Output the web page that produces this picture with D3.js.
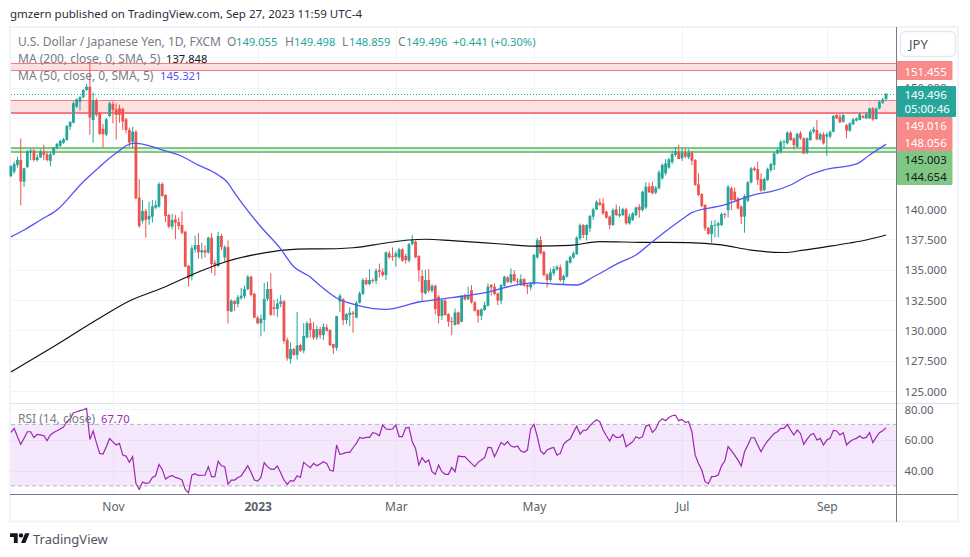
<!DOCTYPE html>
<html>
<head>
<meta charset="utf-8">
<title>USDJPY</title>
<script src="https://cdn.jsdelivr.net/npm/d3@7"></script>
<style>
body{margin:0;background:#fff;}
text{font-family:"Noto Sans",sans-serif;}
</style>
</head>
<body>
<div id="chart"></div>
<script>
// daily candles, bar 0 is the left most one
var opens = [
142.71,143.07,143.62,144.03,142.25,143.43,144.65,144.8,144.03,144.25,
144.72,144.5,143.95,144.5,145.0,145.2,145.45,145.68,146.78,147.1,
148.42,148.83,149.2,149.8,150.07,147.32,148.97,147.87,146.6,146.12,
147.65,148.65,148.2,148.3,148.23,147.38,146.5,145.54,146.36,140.93,
139.03,139.83,139.14,139.36,140.1,140.19,142.05,141.15,139.5,138.54,
139.14,138.92,138.68,138.12,135.3,134.42,136.65,137.03,136.42,136.6,
136.4,137.63,135.57,135.3,137.77,136.0,136.85,131.55,132.41,132.17,
132.66,132.8,133.4,134.42,133,131.04,130.58,130.85,132.58,133.4,
131.89,131.76,132.17,132.39,129.2,127.63,128.46,127.97,128.79,128.32,
129.42,130.58,130.1,129.42,130.1,129.6,130.24,130.02,128.87,128.56,
132.36,132.55,130.84,131.25,131.45,131.04,132.27,132.99,134.14,133.81,
134.14,134.08,134.96,134.83,134.55,136.34,136.12,136.06,136.01,136.67,
136.12,135.73,137.1,137.3,136.12,134.47,133.04,134.14,133.26,133.67,
132.77,131.17,132.44,131.34,130.76,130.43,131.47,130.71,132.9,132.55,
133.31,132.3,131.67,131.2,131.67,132.02,133.73,133.59,133.04,132.44,
133.67,134.36,133.95,134.63,134.08,133.73,134.22,133.73,133.53,133.81,
136.01,137.43,136.47,134.6,134.14,134.69,135.02,135.18,134.14,134.41,
135.57,136,136.28,137.57,138.67,137.85,138.39,139.36,139.96,140.54,
140.45,139.77,139.36,138.67,139.96,139.44,139.49,139.96,138.81,139.08,
139.49,140.18,139.9,140.12,141.84,141.89,141.34,141.7,142.52,142.93,
143.4,143.85,144.45,144.72,144.17,144.64,144.25,144.63,144.03,142.02,
141.22,140.32,138.45,137.93,138.67,138.62,138.67,139.58,139.9,141.69,
141.42,140.87,140.18,139.36,140.67,142.18,143.34,143.28,142.46,141.55,
142.38,143.2,143.61,144.57,144.71,145.5,145.4,146.28,145.8,145.12,
146.22,145.81,144.63,145.67,146.36,146.5,145.73,146.14,145.95,145.95,
146.36,147.73,147.6,147.18,146.9,146.44,146.96,147.27,147.32,147.65,
147.46,147.46,148.28,147.4,148.28,148.75,149.055];
var highs = [
143.6,143.9,144.3,145.8,143.4,144.85,144.95,144.95,144.5,144.9,
145.3,144.7,144.7,145.1,145.45,145.7,145.85,146.9,147.25,148.85,
149.1,149.3,149.85,150.3,151.95,149.58,149.1,148.0,147.0,147.5,
148.85,148.85,148.7,148.6,148.35,147.5,146.7,146.75,146.5,142.44,
140.74,140,140.6,140.74,140.7,142.2,142.2,141.2,139.6,139.6,
139.5,139.3,139.8,138.2,135.4,137.0,137.8,138.0,137.2,137,
137.7,138,135.8,138.1,137.95,137.0,137.4,132.55,132.5,132.9,
133.5,133.7,134.55,134.5,133.1,131.2,131.3,133.9,134,134.7,
132.5,132.6,132.9,132.5,129.4,129,128.55,131.5,128.9,130.6,
130.75,131,130.7,130.4,130.3,130.57,130.5,130.1,128.9,131.2,
133,132.65,131.4,131.9,131.6,132.4,133.2,134.3,134.36,135.02,
134.3,135.1,135.5,135.1,136.5,136.53,136.83,136.5,136.8,136.75,
136.3,137.2,137.85,137.4,136.2,134.98,135,135.05,133.8,133.75,
132.9,132.55,132.6,131.4,131.1,131.8,131.55,132.9,133,133.6,
133.72,132.4,131.75,131.8,132.35,133.86,133.81,133.86,133.1,133.8,
134.5,134.45,135.1,134.96,134.3,134.6,134.3,133.8,134,136.3,
137.6,137.76,136.55,134.7,135.1,135.3,135.35,135.4,134.6,135.8,
136.15,136.5,137.75,138.8,138.75,138.75,139.5,140.1,140.7,140.87,
140.87,139.85,139.45,140.05,140.37,140.2,140.1,140.1,139.6,139.75,
140.2,140.4,141.5,142.2,142.17,142.25,141.9,143.2,143.75,144.1,
144.2,144.8,145.1,145.3,145,144.95,144.9,144.75,144.1,142.93,
141.3,140.4,138.5,139.03,139.08,138.95,139.7,139.7,141.95,141.85,
141.77,141,140.3,141.2,142.3,143.45,143.5,143.9,142.93,142.6,
143.4,143.8,144.7,145,145.65,145.7,146.4,146.4,145.9,146.3,
146.4,145.9,145.9,146.5,146.75,147.32,146.3,146.3,146.3,146.45,
147.75,147.85,147.81,147.85,147,147.15,147.5,147.55,147.95,147.75,
147.95,148.35,148.4,148.35,148.95,149.15,149.498];
var lows = [
142.6,142.9,143.4,140.3,141.8,143.4,144.0,143.9,143.9,144.2,
144,143.9,143.5,144.4,144.9,145.1,145.35,145.6,146.5,147.05,
148.3,148.1,149.1,149.7,146.1,145.45,147.6,146.1,145.05,146,
147.55,147.05,145.7,147.1,146.5,146.2,145.1,145,140.8,138.43,
138.81,137.63,138.68,138.87,140,140.1,141,138.9,138.4,138.3,
137.5,138.3,137.9,135.2,133.6,134.1,136.4,135.9,135.9,136,
136.3,134.7,134.5,135.2,136.6,135.6,130.55,131.5,131.6,131.9,
132.5,132.6,133.3,132.8,131,130.5,129.5,129.9,132.4,131.2,
131.2,131.1,131.9,128.9,127.5,127.25,127.9,127.6,128.2,128.1,
129.3,129.4,129.2,129.2,129.3,129.2,129.9,128.7,128.04,128.32,
131.5,130.43,130.51,130.35,129.8,131,132.2,132.9,133.7,133.7,
133.9,133.8,134.36,134.4,134.14,135.9,135.73,135.24,135.9,135.65,
135.5,135.6,137,135.95,134,132.35,132.95,133.1,133.1,131.3,
130.57,130.84,131.2,130.3,129.6,130.4,130.45,130.65,132.45,132.5,
132.2,131.55,130.62,130.84,131.6,131.95,132.85,132.9,132.08,132.16,
133.6,133.9,133.85,134,133.73,133.65,133.6,132.99,133.3,133.7,
135.9,136.25,134.45,133.53,134,134.5,134.9,134,133.73,134.35,
135.5,135.9,136.2,137.4,137.6,137.4,138.1,139.1,139.9,140.25,
139.5,139.2,138.34,138.6,139.4,139.3,139.4,138.7,138.7,139,
139.4,139.27,139.8,140,141.3,141.2,141.2,141.6,142.4,142.75,
143.3,143.7,144.3,144.1,143.95,144.15,144.1,143.6,141.9,141.05,
140.15,138.2,137.88,137.21,137.65,137.65,138.6,139.2,139.3,139.9,
140.6,139.95,138.75,138.04,140.55,142.1,143.1,141.97,141.4,141.45,
142.3,143.05,143.2,144.5,144.55,144.98,145.3,145.6,144.9,145.05,
145.7,144.5,144.5,145.6,146.2,145.65,145.6,145.3,144.38,145.8,
146.3,147.4,147.05,147.1,145.81,146.35,146.9,147.2,147.3,147.45,
147.4,147.4,147.26,147.35,148.2,148.65,148.859];
var closes = [
143.54,143.7,144.03,142.25,143.34,144.72,144.8,144.03,144.25,144.72,
144.45,144.03,144.5,145.07,145.35,145.6,145.73,146.83,147.16,148.7,
149.03,149.2,149.8,150.07,147.52,148.92,147.74,146.17,146.15,147.38,
148.7,148.15,147.74,147.74,147.19,146.5,145.46,146.36,140.87,138.59,
139.83,139.09,139.42,140.19,140.32,142.05,141.06,139.42,138.54,139.09,
138.87,138.6,138.04,135.24,134.26,136.75,137.03,136.42,136.6,136.4,
137.63,135.46,135.3,137.77,136.85,136.85,131.59,132.44,132.17,132.72,
132.85,133.4,134.42,132.9,131.04,130.58,130.96,132.58,133.4,131.27,
131.76,132.22,132.39,129.12,127.7,128.46,127.97,128.76,128.32,129.53,
130.58,130.03,129.39,130.1,129.6,130.29,129.96,128.78,128.56,131.17,
132.85,130.84,131.34,131.45,131.34,132.27,133.04,134.14,133.81,134.14,
134.05,134.91,134.83,134.55,136.42,136.01,136.06,136.34,136.67,135.73,
135.79,137.1,137.43,136.01,134.96,133.1,134.14,133.26,133.67,131.75,
131.17,132.49,131.26,130.71,130.68,131.47,130.51,132.82,132.55,132.82,
132.3,131.61,131.2,131.72,132.08,133.59,133.53,132.99,132.44,133.73,
134.41,134,134.63,134.08,134,134.22,133.67,133.59,133.86,136.2,
137.43,136.34,134.55,134.14,134.77,135.05,135.24,134.14,134.47,135.7,
136.06,136.34,137.63,138.67,137.85,138.67,139.41,139.96,140.59,140.32,
139.63,139.27,138.67,139.9,139.49,139.58,139.99,138.81,139.36,139.63,
140.12,139.9,141.42,141.84,141.37,141.29,141.75,143.02,143.62,143.76,
144.09,144.53,144.77,144.11,144.64,144.31,144.64,143.97,141.97,141.14,
140.23,138.39,137.93,138.67,138.7,138.81,139.58,139.5,141.83,140.73,
140.73,140.04,139.36,141.06,142.18,143.34,143.2,142.38,141.5,142.46,
143.28,143.69,144.57,144.85,145.53,145.55,146.28,145.67,145.26,146.17,
145.81,144.57,145.81,146.36,146.55,145.73,146.17,145.4,146.14,146.36,
147.65,147.46,147.13,147.73,146.44,147.04,147.37,147.43,147.81,147.51,
147.81,148.28,147.37,148.28,148.83,149.02,149.496];

// RSI, one value per bar
var rsi = [
64.8,67.4,62,57,61,65.2,65.2,61.5,63.5,63.2,
62.6,59.4,63.1,64.7,65.8,67,68.2,71.7,73.5,77.6,
78.2,78.9,79.5,80.4,60.2,65.7,58,51.1,50.7,55.5,
60.7,58.6,56.6,57.6,50,49.4,45.3,49,31.6,27.7,
32.5,31.6,32,35.5,36.6,44,40.7,34.4,35.9,36.8,
35.5,34.9,33.8,27.7,25.5,37,37.9,36.8,36.9,37,
42.5,36,36,46.1,43.1,42.5,31.2,33.8,33.8,35.5,
36.4,39.8,43.1,38.8,33.8,33.1,35.5,45.1,42.5,40.9,
40.7,42.9,38.5,33.8,31,33.4,33.1,36.6,35.5,45.3,
43.5,41.8,44.6,43.1,44.3,45.7,44.6,40.1,39.6,56.6,
50.5,51,51.8,51.8,54.8,57.6,61.5,60.9,61.5,61.5,
64.6,64.1,62.6,69.6,67,66.7,67,69.6,62,62,
67.8,68,58.7,54.4,43.5,48.3,45.3,46.8,39.2,37.5,
43.5,39.2,37.5,37.5,42,39.2,49.4,49,49,46.8,
44.6,42.5,45.3,46.8,48.3,55,54.9,49,53.5,58.3,
56.6,58.7,55.9,55.2,55.9,52.7,51.8,53.3,67,70,
62,52.7,50.7,53.3,54.4,55,50,51.1,57,59.2,
60.5,64.8,68.9,63.7,66.1,66.3,69.1,71.3,73,71.7,
66.3,62.6,59.2,63.5,61.5,61.5,63.5,55.5,57.2,58.7,
62,60.9,62,68.9,69.6,64.8,67,71.7,73.7,72.4,
74.5,75.6,76,72.4,73.2,71.3,71.7,65.2,50,44.6,
40.3,32.7,31.4,36,36.2,37,43,46.1,55.5,52.9,
50,46.8,42.9,52.2,56.6,61.3,61.3,56.6,52.2,56.1,
59.2,61.5,64.1,65.2,67.4,67.4,70,66.3,63.1,66.3,
64.1,57,60.2,63.1,64.1,59.8,60.9,56.6,59.8,60.9,
66.1,65.7,63.1,64.6,56.6,58.7,60.2,60.9,62.4,60.9,
61.5,64.6,58.1,61.5,64.6,65.9,67.7];

// moving averages, read at the bars where the line bends
var ma200Bars = [0,12,27,36,46,57,66,75,83,91,94,104,114,121,126,134,149,159,170,179,191,206,216,225,235,241,248,255,260,266];
var ma200 = [126.57,128.5,131.01,132.41,133.48,134.8,135.71,136.28,136.61,136.7,136.7,136.8,137.19,137.44,137.5,137.38,137.11,136.94,137,137.3,137.25,137.22,137.03,136.61,136.41,136.61,136.89,137.19,137.44,137.848];
var ma50Bars = [0,4,9,14,22,27,32,37,38,47,51,57,63,66,67,75,82,86,91,94,99,105,114,124,134,145,155,160,165,172,177,185,190,195,205,207,216,227,231,237,242,247,257,261,266];
var ma50 = [137.69,138.26,139.09,139.91,142.24,143.48,144.6,145.4,145.4,144.77,144.44,143.61,142.79,142.13,141.72,138.84,136.7,135.24,134.39,133.67,132.66,132.08,131.73,132.33,132.69,133.15,133.81,133.9,133.81,133.73,134.39,135.57,136.2,137.3,139.33,139.69,140.26,141.23,141.42,141.97,142.71,143.2,143.7,144.44,145.321];

// support / resistance zones, top and bottom edge as drawn
var redZones = [[151.99,151.42],[148.95,147.93]];
var greenZone = [145.0,144.68];
var lastClose = 149.496;

var priceTicks = [125,127.5,130,132.5,135,137.5,140,142.5,145,147.5,150,152.5];
var priceTickLabels = [125,127.5,130,132.5,135,137.5,140,150];
var rsiTicks = [40,60,80];
var monthBars = [31,75,117,159,204,248];
var monthNames = ["Nov","2023","Mar","May","Jul","Sep"];

var up = "#26a69a", down = "#ef5350", gridColor = "#f0f3fa", axisColor = "#787b86", labelColor = "#5d606b";
var left = 11, right = 896, mainTop = 28, mainBottom = 403, rsiBottom = 494;

var svg = d3.select("#chart").append("svg").attr("width",970).attr("height",557).style("display","block");

var x = d3.scaleLinear().domain([0,266]).range([10.9,886]);
var y = d3.scaleLinear().domain([125,150]).range([391,87.5]);
var yRsi = d3.scaleLinear().domain([40,80]).range([470.5,409]);

// frame
svg.append("text").attr("x",10).attr("y",18).attr("font-size",11.5).attr("fill","#2a2e39")
    .text("gmzern published on TradingView.com, Sep 27, 2023 11:59 UTC-4");
svg.append("rect").attr("x",10).attr("y",27).attr("width",948).attr("height",494.5)
    .attr("fill","#fff").attr("stroke",gridColor).attr("stroke-width",2);

// grid
var grid = svg.append("g").attr("stroke",gridColor).attr("shape-rendering","crispEdges");
grid.selectAll(".gx").data(monthBars).enter().append("line")
    .attr("x1",d => Math.round(x(d))+0.5).attr("x2",d => Math.round(x(d))+0.5)
    .attr("y1",mainTop).attr("y2",rsiBottom);
grid.selectAll(".gy").data(priceTicks).enter().append("line")
    .attr("x1",left).attr("x2",right).attr("y1",d => Math.round(y(d))+0.5).attr("y2",d => Math.round(y(d))+0.5);

// zones
var zones = svg.append("g").attr("shape-rendering","crispEdges");
redZones.forEach(function(z,i){
    zones.append("rect").attr("x",left).attr("width",right-left).attr("y",y(z[0])).attr("height",y(z[1])-y(z[0]))
        .attr("fill","#fde1e1");
    zones.append("line").attr("x1",left).attr("x2",right).attr("y1",y(z[0])).attr("y2",y(z[0]))
        .attr("stroke","#f77c80");
    zones.append("line").attr("x1",left).attr("x2",right).attr("y1",y(z[1])).attr("y2",y(z[1]))
        .attr("stroke","#f77c80").attr("stroke-width",i==1 ? 2 : 1);
});
zones.append("rect").attr("x",left).attr("width",right-left).attr("y",y(greenZone[0])).attr("height",y(greenZone[1])-y(greenZone[0]))
    .attr("fill","#e6f4e7");
greenZone.forEach(function(v){
    zones.append("line").attr("x1",left).attr("x2",right).attr("y1",y(v)).attr("y2",y(v))
        .attr("stroke","#81c784").attr("stroke-width",2);
});
svg.append("line").attr("x1",left).attr("x2",right).attr("y1",Math.round(y(lastClose))+0.5).attr("y2",Math.round(y(lastClose))+0.5)
    .attr("stroke",up).attr("stroke-dasharray","1 2").attr("shape-rendering","crispEdges");

// candles
var candles = svg.append("g").selectAll("g").data(closes).enter().append("g")
    .attr("fill",(d,i) => d >= opens[i] ? up : down);
candles.append("rect").attr("x",(d,i) => x(i)-0.5).attr("width",1)
    .attr("y",(d,i) => y(highs[i])).attr("height",(d,i) => y(lows[i])-y(highs[i]));
candles.append("rect").attr("x",(d,i) => x(i)-1.4).attr("width",2.8)
    .attr("y",(d,i) => y(Math.max(opens[i],closes[i])))
    .attr("height",(d,i) => Math.max(1,Math.abs(y(opens[i])-y(closes[i]))));

// moving averages
var maLine = d3.line().x(d => x(d[0])).y(d => y(d[1])).curve(d3.curveMonotoneX);
svg.append("path").attr("d",maLine(d3.zip(ma200Bars,ma200))).attr("fill","none").attr("stroke","#111").attr("stroke-width",1.2);
svg.append("path").attr("d",maLine(d3.zip(ma50Bars,ma50))).attr("fill","none").attr("stroke","#5353f7").attr("stroke-width",1.3);

// rsi pane
svg.append("line").attr("x1",10).attr("x2",958).attr("y1",403.5).attr("y2",403.5).attr("stroke","#e0e3eb");
svg.append("rect").attr("x",left).attr("width",right-left).attr("y",yRsi(70)).attr("height",yRsi(30)-yRsi(70)).attr("fill","#f5e8fd");
var rsiGrid = svg.append("g").attr("shape-rendering","crispEdges");
rsiGrid.selectAll("line").data(rsiTicks).enter().append("line")
    .attr("x1",left).attr("x2",right).attr("y1",d => Math.round(yRsi(d))+0.5).attr("y2",d => Math.round(yRsi(d))+0.5)
    .attr("stroke",d => d==80 ? gridColor : "#ecdff5");
rsiGrid.selectAll(".v").data(monthBars).enter().append("line")
    .attr("x1",d => Math.round(x(d))+0.5).attr("x2",d => Math.round(x(d))+0.5)
    .attr("y1",yRsi(70)).attr("y2",yRsi(30)).attr("stroke","#ecdff5");
[70,30].forEach(function(v){
    svg.append("line").attr("x1",left).attr("x2",right).attr("y1",yRsi(v)).attr("y2",yRsi(v))
        .attr("stroke","#b2b5be").attr("stroke-dasharray","4 3");
});
svg.append("path").attr("d",d3.line().x((d,i) => x(i)).y(d => yRsi(d))(rsi))
    .attr("fill","none").attr("stroke","#9c27b0").attr("stroke-width",1.2);

// axis frame lines
svg.append("line").attr("x1",10).attr("x2",958).attr("y1",494.5).attr("y2",494.5).attr("stroke",axisColor);
svg.append("line").attr("x1",896.5).attr("x2",896.5).attr("y1",27).attr("y2",522).attr("stroke",axisColor);

// axes
var priceAxis = d3.axisRight(y).tickValues(priceTickLabels).tickSize(0).tickPadding(8).tickFormat(d3.format(".3f"));
var gp = svg.append("g").attr("transform","translate(896.5,0.5)").call(priceAxis);
var rsiAxis = d3.axisRight(yRsi).tickValues(rsiTicks).tickSize(0).tickPadding(8).tickFormat(d3.format(".2f"));
var gr = svg.append("g").attr("transform","translate(896.5,0.5)").call(rsiAxis);
var timeAxis = d3.axisBottom(x).tickValues(monthBars).tickSize(0).tickPadding(8).tickFormat((d,i) => monthNames[i]);
var gt = svg.append("g").attr("transform","translate(0,494.5)").call(timeAxis);
[gp,gr,gt].forEach(function(g){
    g.select(".domain").remove();
    g.selectAll("text").attr("font-family",'"Noto Sans",sans-serif').attr("font-size",11.4).attr("fill",labelColor);
});
gt.selectAll("text").attr("font-size",12);
gt.selectAll("text").filter(d => d==75).attr("font-weight","bold");

// price labels
function priceBox(y0,y1,w,fill,color,labels){
    svg.append("rect").attr("x",897).attr("y",y0).attr("width",w).attr("height",y1-y0).attr("rx",1).attr("fill",fill);
    labels.forEach(function(l){
        svg.append("text").attr("x",904.5).attr("y",l[0]).attr("font-size",11.4).attr("fill",color).text(l[1]);
    });
}
priceBox(61,80,55.5,"#f98a8a","#fff",[[75.5,"151.455"]]);
priceBox(86,117,59,up,"#fff",[[99,"149.496"],[112.5,"05:00:46"]]);
priceBox(117,151,55.5,"#f98a8a","#fff",[[130,"149.016"],[147,"148.056"]]);
priceBox(151,185,55.5,"#81c784","#131722",[[164,"145.003"],[181,"144.654"]]);

// currency button
svg.append("rect").attr("x",900.5).attr("y",31.5).attr("width",55).attr("height",25).attr("rx",5)
    .attr("fill","#fff").attr("stroke","#e7e9f0").attr("stroke-width",1.5);
svg.append("text").attr("x",909).attr("y",49).attr("font-size",13).attr("fill","#50535e").text("JPY");

// legend, each part sits at its own x like in the picture
function legend(py,parts){
    parts.forEach(function(p){
        svg.append("text").attr("x",p[1]).attr("y",py).attr("font-size",p[3] || 12).attr("fill",p[2]).text(p[0]);
    });
}
var grey = "#787b86";
legend(46,[["U.S. Dollar / Japanese Yen, 1D, FXCM",18,grey],
    ["O",227,grey],["149.055",236,up,11.2],
    ["H",285,grey],["149.498",294,up,11.2],
    ["L",342,grey],["148.859",349,up,11.2],
    ["C",398,grey],["149.496",406,up,11.2],
    ["+0.441 (+0.30%)",453,up,11.2]]);
legend(63,[["MA (200, close, 0, SMA, 5)",18,grey],["137.848",166,"#131722",11.2]]);
legend(80,[["MA (50, close, 0, SMA, 5)",18,grey],["145.321",160,"#5353f7",11.2]]);
legend(423,[["RSI (14, close)",18,grey],["67.70",101,"#9c27b0",11.2]]);

// footer logo
var logo = svg.append("g").attr("transform","translate(10,531) scale(0.55)").attr("fill","#131722");
logo.append("path").attr("d","M14 22H7V11H0V4h14v18zM28 22h-8l7.5-18h8L28 22z");
logo.append("circle").attr("cx",20).attr("cy",8).attr("r",4);
svg.append("text").attr("x",33).attr("y",544).attr("font-size",13).attr("fill","#50535e").text("TradingView");
</script>
</body>
</html>
